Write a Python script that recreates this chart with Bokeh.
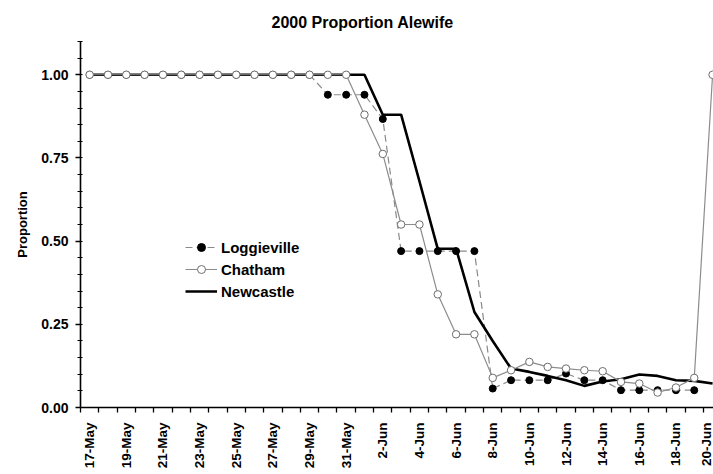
import numpy as np
from bokeh.plotting import figure
from bokeh.models import FixedTicker, Legend, LegendItem, Title
from bokeh.embed import file_html
from bokeh.resources import INLINE

dates = ["17-May", "18-May", "19-May", "20-May", "21-May", "22-May", "23-May", "24-May",
         "25-May", "26-May", "27-May", "28-May", "29-May", "30-May", "31-May",
         "1-Jun", "2-Jun", "3-Jun", "4-Jun", "5-Jun", "6-Jun", "7-Jun", "8-Jun", "9-Jun",
         "10-Jun", "11-Jun", "12-Jun", "13-Jun", "14-Jun", "15-Jun", "16-Jun", "17-Jun",
         "18-Jun", "19-Jun", "20-Jun"]

loggieville = [1.00, 1.00, 1.00, 1.00, 1.00, 1.00, 1.00, 1.00, 1.00, 1.00, 1.00, 1.00, 1.00,
               0.94, 0.94, 0.94, 0.867, 0.47, 0.47, 0.47, 0.47, 0.47, 0.057, 0.082,
               0.082, 0.082, 0.102, 0.082, 0.082, 0.052, 0.052, 0.052, 0.052, 0.052, np.nan]

chatham = [1.00, 1.00, 1.00, 1.00, 1.00, 1.00, 1.00, 1.00, 1.00, 1.00, 1.00, 1.00, 1.00,
           1.00, 1.00, 0.88, 0.762, 0.55, 0.55, 0.34, 0.22, 0.22, 0.089, 0.112,
           0.137, 0.122, 0.117, 0.112, 0.109, 0.077, 0.072, 0.045, 0.06, 0.089, 1.00]

newcastle = [1.00, 1.00, 1.00, 1.00, 1.00, 1.00, 1.00, 1.00, 1.00, 1.00, 1.00, 1.00, 1.00,
             1.00, 1.00, 1.00, 0.88, 0.88, 0.68, 0.477, 0.477, 0.287, 0.20, 0.117,
             0.107, 0.095, 0.082, 0.065, 0.078, 0.085, 0.099, 0.095, 0.082, 0.08, 0.072]

y_ticks = [0.0, 0.25, 0.5, 0.75, 1.0]

idx = list(range(len(dates)))
FONT = "Liberation Sans"

p = figure(width=713, height=474, output_backend="svg", toolbar_location=None,
           x_range=(-0.5, 34.05), y_range=(0, 1.1),
           min_border_left=80, min_border_right=0, min_border_top=41, min_border_bottom=67)
p.outline_line_color = None
p.xgrid.visible = False
p.ygrid.visible = False
p.background_fill_color = "white"
p.border_fill_color = "white"

p.title = Title(text="2000 Proportion Alewife", align="left", offset=191, standoff=21,
                text_font=FONT, text_font_size="16px", text_font_style="bold",
                text_color="black")

# Loggieville
l_line = p.line(idx, loggieville, line_color="#8a8a8a", line_width=1.2, line_dash="7 4")
l_pts = p.scatter(idx, loggieville, size=7, fill_color="black", line_color="black")
# Newcastle
n_line = p.line(idx, newcastle, line_color="black", line_width=2.6)
# Chatham
c_line = p.line(idx, chatham, line_color="#8c8c8c", line_width=1.2)
c_pts = p.scatter(idx, chatham, size=7.5, fill_color="white", line_color="#6e6e6e",
                  line_width=1)

legend = Legend(items=[
    LegendItem(label="Loggieville", renderers=[l_line, l_pts]),
    LegendItem(label="Chatham", renderers=[c_line, c_pts]),
    LegendItem(label="Newcastle", renderers=[n_line]),
], location=(105, 106), glyph_width=32, glyph_height=20, label_height=20,
    spacing=2, padding=0, margin=0, border_line_color=None, background_fill_alpha=0,
    label_text_font=FONT, label_text_font_size="15px", label_text_font_style="bold",
    label_text_color="black", label_standoff=4)
p.add_layout(legend, "center")

# x axis
label_ticks = idx[::2]
p.xaxis.ticker = FixedTicker(ticks=label_ticks, minor_ticks=[i - 0.5 for i in range(len(dates) + 1)])
p.xaxis.major_label_overrides = {i: dates[i] for i in label_ticks}
p.xaxis.major_label_orientation = np.pi / 2
p.xaxis.major_tick_out = 0
p.xaxis.major_tick_in = 0
p.xaxis.minor_tick_out = 5
p.xaxis.minor_tick_in = 0
p.xaxis.major_label_standoff = 10
p.xaxis.major_label_text_font = FONT
p.xaxis.major_label_text_font_size = "13.5px"
p.xaxis.major_label_text_font_style = "bold"
p.xaxis.major_label_text_color = "black"
p.xaxis.axis_line_width = 1.6
p.xaxis.axis_line_color = "black"
p.xaxis.minor_tick_line_color = "black"
p.xaxis.minor_tick_line_width = 1.3

# y axis
p.yaxis.ticker = FixedTicker(ticks=y_ticks, minor_ticks=[round(0.05 * k, 2) for k in range(23)])
p.yaxis.major_label_overrides = {t: "%.2f" % t for t in y_ticks}
p.yaxis.axis_label = "Proportion"
p.yaxis.axis_label_text_font = FONT
p.yaxis.axis_label_text_font_size = "13px"
p.yaxis.axis_label_text_font_style = "bold"
p.yaxis.axis_label_text_color = "black"
p.yaxis.axis_label_standoff = 8
p.yaxis.major_label_text_font = FONT
p.yaxis.major_label_text_font_size = "14px"
p.yaxis.major_label_text_font_style = "bold"
p.yaxis.major_label_text_color = "black"
p.yaxis.major_label_standoff = 7
p.yaxis.major_tick_out = 5
p.yaxis.major_tick_in = 0
p.yaxis.minor_tick_out = 3
p.yaxis.minor_tick_in = 2
p.yaxis.axis_line_width = 1.6
p.yaxis.axis_line_color = "black"
p.yaxis.major_tick_line_width = 1.3
p.yaxis.minor_tick_line_width = 1.2

open("out.html", "w").write(file_html(p, INLINE))
